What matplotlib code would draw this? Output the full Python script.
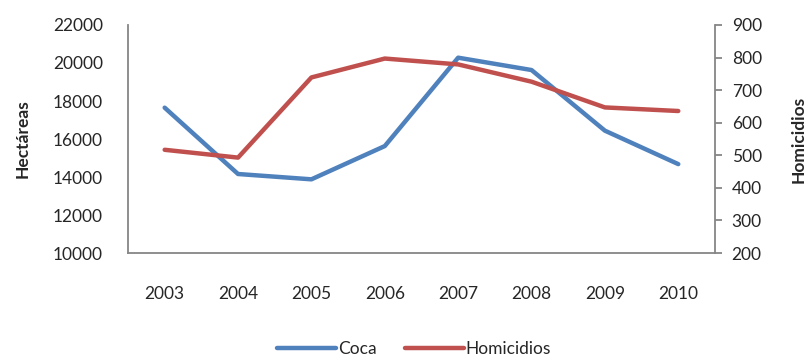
import matplotlib.pyplot as plt

# Datos
anios = ['2003', '2004', '2005', '2006', '2007', '2008', '2009', '2010']
coca = [17650, 14160, 13880, 15630, 20280, 19630, 16440, 14680]
homicidios = [517, 493, 739, 797, 779, 726, 647, 636]

plt.rcParams['font.family'] = ['Lato', 'DejaVu Sans']
color_texto = '#262626'
gris = '#868686'
fs = 12.5

fig = plt.figure(figsize=(8.12, 3.6), dpi=100)
ax = fig.add_axes([0.1576, 0.297, 0.7229, 0.6336])
ax2 = ax.twinx()

x = range(len(anios))
l1, = ax.plot(x, coca, color='#4F81BD', lw=3.2, solid_capstyle='round', label='Coca')
l2, = ax2.plot(x, homicidios, color='#C0504D', lw=3.2, solid_capstyle='round', label='Homicidios')

ax.set_xlim(-0.5, len(anios) - 0.5)
ax.set_ylim(10000, 22000)
ax.set_yticks(range(10000, 22001, 2000))
ax2.set_ylim(200, 900)
ax2.set_yticks(range(200, 901, 100))
ax.set_xticks(list(x))
ax.set_xticklabels(anios)

for s in ['top', 'right']:
    ax.spines[s].set_visible(False)
for s in ['top', 'left', 'bottom']:
    ax2.spines[s].set_visible(False)
for sp in [ax.spines['left'], ax.spines['bottom'], ax2.spines['right']]:
    sp.set_color(gris)
    sp.set_linewidth(1.3)

ax.tick_params(axis='y', length=0, pad=18, labelsize=fs, labelcolor=color_texto)
ax.tick_params(axis='x', length=0, pad=24, labelsize=fs, labelcolor=color_texto)
ax2.tick_params(axis='y', length=5, color=gris, width=1.3, pad=7, labelsize=fs, labelcolor=color_texto)

ax.set_ylabel('Hectáreas', fontsize=fs, fontweight='bold', color=color_texto, labelpad=16)
ax2.set_ylabel('Homicidios', fontsize=fs, fontweight='bold', color=color_texto, rotation=90, labelpad=21)

fig.legend(handles=[l1, l2], loc='lower center', bbox_to_anchor=(0.51, -0.035), ncol=2,
           frameon=False, fontsize=fs, handlelength=3.4, handletextpad=0.1, columnspacing=1.6,
           labelcolor=color_texto)

fig.savefig('out.png', dpi=100)
